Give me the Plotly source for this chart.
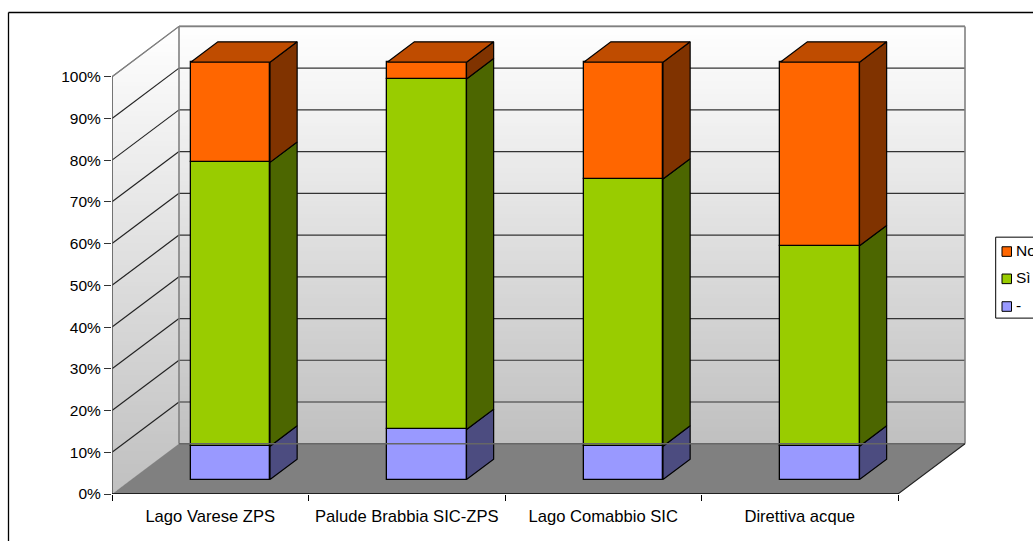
import numpy as np
import plotly.graph_objects as go

# Percentages per monitored site, stacked bottom to top
categories = ["Lago Varese ZPS", "Palude Brabbia SIC-ZPS", "Lago Comabbio SIC", "Direttiva acque"]
values_dash = [8, 12, 8, 8]
values_si = [68, 84, 64, 48]
values_no = [24, 4, 28, 44]
y_ticks = list(range(0, 101, 10))
y_tick_labels = [f"{v}%" for v in y_ticks]

series = [
    ("-", values_dash, "#9999FF", "#4C4C80", None),
    ("Sì", values_si, "#99CC00", "#4C6600", None),
    ("No", values_no, "#FF6600", "#803300", "#BF4C00"),
]

# Page geometry, in pixels
W, H = 1033, 541
PX_LEFT, PX_RIGHT = 112.0, 975.0      # plot area
PX_BOTTOM, PX_TOP = 494.3, 18.0
PX_PER_CAT = 196.5
PX_PER_PCT = 4.176

# Oblique projection: a full-depth step expressed in axis units
DEPTH_X = 67.0 / PX_PER_CAT
DEPTH_Y = 50.3 / PX_PER_PCT
BAR_WIDTH = 79.3 / PX_PER_CAT
BAR_D0, BAR_D1 = 0.30, 0.705
BAR_DROP = 0.15  # columns sit slightly lower than their depth alone would place them
N_CAT = len(categories)


def project(x, y, depth):
    return x + depth * DEPTH_X, y + depth * DEPTH_Y


def px_x(px):
    return (px - PX_LEFT) / (PX_RIGHT - PX_LEFT)


def px_y(py):
    return (PX_BOTTOM - py) / (PX_BOTTOM - PX_TOP)


def grey(t):
    v = int(round(255 + (192 - 255) * t))
    return f"rgb({v},{v},{v})"


def clip_above(poly, level):
    """Keep the part of a polygon lying above a horizontal level."""
    out = []
    for i, (x0, y0) in enumerate(poly):
        x1, y1 = poly[(i + 1) % len(poly)]
        if y0 >= level:
            out.append((x0, y0))
        if (y0 >= level) != (y1 >= level):
            f = (level - y0) / (y1 - y0)
            out.append((x0 + f * (x1 - x0), level))
    return out


def path_of(poly):
    return "M" + "L".join(f"{x:.5f},{y:.5f}" for x, y in poly) + "Z"


shapes = []
wall_x0, wall_x1 = DEPTH_X, N_CAT + DEPTH_X
wall_y0, wall_y1 = DEPTH_Y, 100 + DEPTH_Y

# Back wall gradient, painted bottom-up so that strips never leave seams
for level in np.linspace(0, 100, 101)[:-1]:
    shapes.append(dict(type="rect", xref="x", yref="y", layer="below",
                       x0=wall_x0, x1=wall_x1, y0=wall_y0 + level, y1=wall_y1,
                       fillcolor=grey(1 - level / 100), line=dict(width=0)))

# Side wall gradient over its vertical extent
side_wall = [(0, 0), (DEPTH_X, DEPTH_Y), (DEPTH_X, wall_y1), (0, 100)]
for level in np.linspace(0, wall_y1, 111)[:-1]:
    shapes.append(dict(type="path", xref="x", yref="y", layer="below",
                       path=path_of(clip_above(side_wall, level)),
                       fillcolor=grey(1 - level / wall_y1), line=dict(width=0)))

# Floor
floor = [(0, 0), (N_CAT, 0), (wall_x1, wall_y0), (wall_x0, wall_y0)]
shapes.append(dict(type="path", xref="x", yref="y", layer="below", path=path_of(floor),
                   fillcolor="#808080", line=dict(width=0)))

# Gridlines across both walls
for v in y_ticks[1:]:
    colour = "#808080" if v == 100 else "#222222"
    x0, y0 = project(0, v, 0)
    x1, y1 = project(0, v, 1)
    shapes.append(dict(type="line", xref="x", yref="y", layer="below", x0=x0, y0=y0, x1=x1, y1=y1,
                       line=dict(color=colour, width=1.2)))
    shapes.append(dict(type="line", xref="x", yref="y", layer="below", x0=x1, y0=y1, x1=wall_x1, y1=y1,
                       line=dict(color=colour if v == 100 else "#333333", width=1.2)))

# Frame of the chart area: only the left and top edges fall on the page
shapes.append(dict(type="line", xref="paper", yref="paper", layer="below",
                   x0=px_x(8.5), x1=px_x(8.5), y0=px_y(12.5), y1=px_y(H + 2),
                   line=dict(color="#000000", width=1.3)))
shapes.append(dict(type="line", xref="paper", yref="paper", layer="below",
                   x0=px_x(8.5), x1=px_x(W + 2), y0=px_y(12.5), y1=px_y(12.5),
                   line=dict(color="#000000", width=1.3)))

# Legend box, swatches and texts
legend_rows = [("No", "#FF6600", 251.7), ("Sì", "#99CC00", 279.0), ("-", "#9999FF", 306.7)]
shapes.append(dict(type="rect", xref="paper", yref="paper", layer="above",
                   x0=px_x(995.7), x1=px_x(W + 5), y0=px_y(237.3), y1=px_y(318.3),
                   fillcolor="#FFFFFF", line=dict(color="#000000", width=1)))
annotations = []
for text, colour, py in legend_rows:
    shapes.append(dict(type="rect", xref="paper", yref="paper", layer="above",
                       x0=px_x(1002), x1=px_x(1011.5), y0=px_y(py - 4.8), y1=px_y(py + 4.8),
                       fillcolor=colour, line=dict(color="#000000", width=1)))
    annotations.append(dict(xref="paper", yref="paper", x=px_x(1016), y=px_y(py - 1.5),
                            text=text, showarrow=False, xanchor="left", yanchor="middle",
                            xshift=-1, borderpad=0, font=dict(size=15.5, color="#000000")))

fig = go.Figure()

# Front faces of the stacked columns
centres = [i + 0.5 for i in range(N_CAT)]
front_x = [project(c, 0, BAR_D0)[0] for c in centres]
offset_y = project(0, 0, BAR_D0)[1] - BAR_DROP
base = np.zeros(N_CAT)
stack = []
for name, vals, front, side, top in series:
    vals = np.array(vals, dtype=float)
    fig.add_trace(go.Bar(x=front_x, y=vals, base=base + offset_y, width=BAR_WIDTH, name=name,
                         marker=dict(color=front, line=dict(color="#000000", width=1.3)),
                         showlegend=False, hoverinfo="skip"))
    stack.append((base - BAR_DROP, base + vals - BAR_DROP, side, top))
    base = base + vals


def add_poly(points, colour):
    xs, ys = zip(*(points + points[:1]))
    fig.add_trace(go.Scatter(x=xs, y=ys, mode="lines", fill="toself", fillcolor=colour,
                             line=dict(color="#000000", width=1.2), showlegend=False,
                             hoverinfo="skip", cliponaxis=False))


# Right-hand sides of each segment, plus the lids of the top segment
for low, high, side, top in stack:
    for i, c in enumerate(centres):
        right = c + BAR_WIDTH / 2
        left = c - BAR_WIDTH / 2
        add_poly([project(right, low[i], BAR_D0), project(right, low[i], BAR_D1),
                  project(right, high[i], BAR_D1), project(right, high[i], BAR_D0)], side)
        if top:
            add_poly([project(left, high[i], BAR_D0), project(right, high[i], BAR_D0),
                      project(right, high[i], BAR_D1), project(left, high[i], BAR_D1)], top)


def add_edge(xs, ys, colour, width):
    fig.add_trace(go.Scatter(x=xs, y=ys, mode="lines", line=dict(color=colour, width=width),
                             showlegend=False, hoverinfo="skip", cliponaxis=False))


# Wall edges and the two front axes
add_edge([wall_x0, wall_x0], [wall_y0, wall_y1], "#808080", 1.6)
add_edge([wall_x1, wall_x1], [wall_y0, wall_y1], "#808080", 1.6)
add_edge([wall_x0, wall_x1], [wall_y1, wall_y1], "#808080", 1.6)
add_edge([wall_x0, wall_x1], [wall_y0, wall_y0], "#666666", 1.4)
add_edge([0, wall_x0], [100, wall_y1], "#808080", 1.2)
add_edge([0, 0], [0, 100], "#555555", 1.6)
add_edge([0, N_CAT], [0, 0], "#000000", 1.5)
add_edge([N_CAT, wall_x1], [0, wall_y0], "#222222", 1.1)

fig.update_layout(
    width=W, height=H, barmode="overlay", bargap=0,
    paper_bgcolor="#FFFFFF", plot_bgcolor="rgba(0,0,0,0)",
    margin=dict(l=PX_LEFT, r=W - PX_RIGHT, t=PX_TOP, b=H - PX_BOTTOM, pad=0),
    font=dict(family="Liberation Sans, Arial, sans-serif", size=15, color="#000000"),
    showlegend=False, shapes=shapes, annotations=annotations,
    xaxis=dict(range=[0, (PX_RIGHT - PX_LEFT) / PX_PER_CAT], showgrid=False, zeroline=False,
               showline=False, tickmode="array", tickvals=centres, ticktext=categories,
               ticks="", ticklabelstandoff=10, tickfont=dict(size=16.6),
               minor=dict(tickmode="array", tickvals=list(range(N_CAT + 1)), ticks="outside",
                          ticklen=6, tickwidth=1, tickcolor="#000000", showgrid=False)),
    yaxis=dict(range=[0, (PX_BOTTOM - PX_TOP) / PX_PER_PCT], showgrid=False, zeroline=False,
               showline=False, tickmode="array", tickvals=y_ticks, ticktext=y_tick_labels,
               ticks="outside", ticklen=7, tickwidth=1, tickcolor="#333333",
               tickfont=dict(size=15.5)),
)

fig.write_html("out.html", config=dict(displayModeBar=False))
